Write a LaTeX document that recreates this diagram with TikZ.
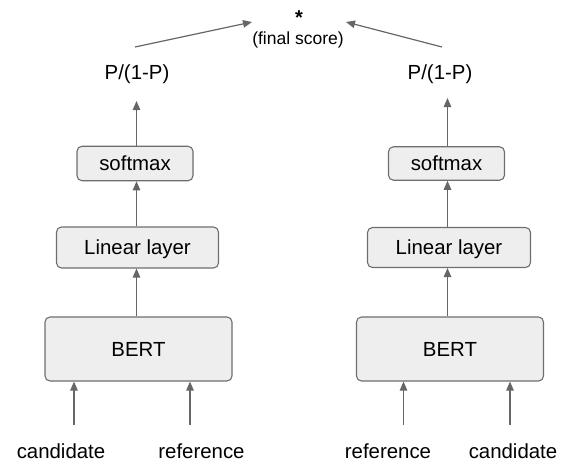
\documentclass[tikz,border=0pt]{standalone}
\usepackage{fontspec}
\setmainfont{Liberation Sans}
\usetikzlibrary{arrows.meta}
\definecolor{boxfill}{HTML}{EEEEEE}
\definecolor{boxline}{HTML}{6E6E6E}
\definecolor{arrline}{HTML}{666666}
\begin{document}
\begin{tikzpicture}[x=1pt,y=-1pt,
  box/.style={draw=boxline, fill=boxfill, line width=1.1pt, rounded corners=5pt,
    font=\fontsize{20.4}{24}\selectfont, text height=14.6pt, text depth=0pt, inner sep=0pt},
  lbl/.style={font=\fontsize{20.4}{24}\selectfont, anchor=base, inner sep=0pt},
  arr/.style={draw=arrline, line width=1.2pt, -{Triangle[length=9pt,width=7.5pt]}}]
\useasboundingbox (0,0) rectangle (567,463);
% left column
\node[box, minimum width=116pt, minimum height=34.5pt] (soft1) at (135,163.5) {softmax};
\node[box, minimum width=162pt, minimum height=41pt] (lin1) at (137.5,247.5) {Linear layer};
\node[box, minimum width=187pt, minimum height=64pt] (bert1) at (138.5,349) {BERT};
\node[lbl] (p1) at (137,79) {P/(1-P)};
\node[lbl] (cand1) at (61,458) {candidate};
\node[lbl] (ref1) at (201.5,458) {reference};
% right column
\node[box, minimum width=116pt, minimum height=33.5pt] (soft2) at (446.5,163.5) {softmax};
\node[box, minimum width=163pt, minimum height=40pt] (lin2) at (449,247.5) {Linear layer};
\node[box, minimum width=187pt, minimum height=64pt] (bert2) at (450,349) {BERT};
\node[lbl] (p2) at (440,79) {P/(1-P)};
\node[lbl] (ref2) at (388,458) {reference};
\node[lbl] (cand2) at (513,458) {candidate};
% top
\node[font=\bfseries\fontsize{20}{24}\selectfont, anchor=base, inner sep=0pt] (star) at (299,24) {*};
\node[font=\fontsize{17.5}{20}\selectfont, anchor=base, inner sep=0pt] (fs) at (298,44.5) {(final score)};
% coordinates
\coordinate (a1) at (74,425);
\coordinate (b1) at (190,425);
\coordinate (a2) at (403.5,425);
\coordinate (b2) at (510,425);
\coordinate (t1) at (136.5,101);
\coordinate (t2) at (447.5,98);
\coordinate (s1) at (135,47);
\coordinate (e1) at (252,22);
\coordinate (s2) at (442,47);
\coordinate (e2) at (346,22);
% arrows left
\draw[arr] (a1) -- (a1 |- bert1.south);
\draw[arr] (b1) -- (b1 |- bert1.south);
\draw[arr] (bert1.north -| t1) -- (t1 |- lin1.south);
\draw[arr] (lin1.north -| t1) -- (t1 |- soft1.south);
\draw[arr] (soft1.north -| t1) -- (t1);
% arrows right
\draw[arr] (a2) -- (a2 |- bert2.south);
\draw[arr] (b2) -- (b2 |- bert2.south);
\draw[arr] (bert2.north -| t2) -- (t2 |- lin2.south);
\draw[arr] (lin2.north -| t2) -- (t2 |- soft2.south);
\draw[arr] (soft2.north -| t2) -- (t2);
% top arrows
\draw[arr] (s1) -- (e1);
\draw[arr] (s2) -- (e2);
\end{tikzpicture}
\end{document}
